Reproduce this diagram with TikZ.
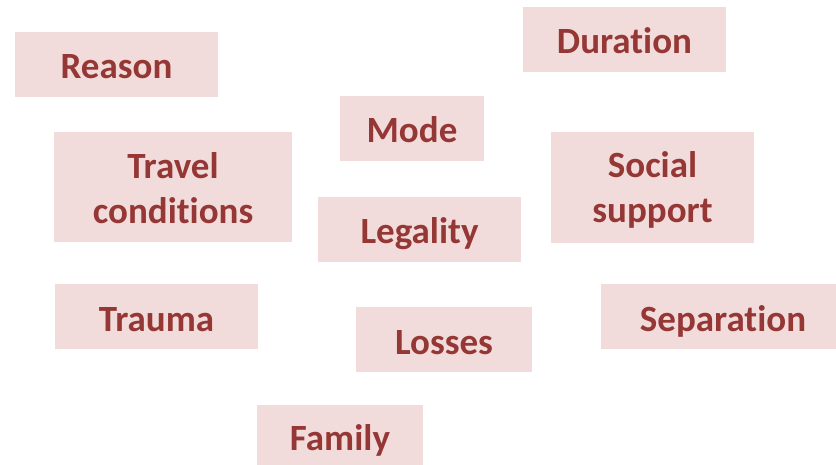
\documentclass[tikz,border=0pt]{standalone}
\usepackage{fontspec}
\setmainfont{Carlito}[Ligatures=CommonOff]
\definecolor{boxfill}{HTML}{F2DCDB}
\definecolor{boxtext}{HTML}{953735}
\begin{document}
\begin{tikzpicture}[x=1pt,y=-1pt,
  tag/.style={rectangle, fill=boxfill, text=boxtext, inner sep=0pt,
    font=\fontsize{37}{45}\selectfont\bfseries,
    text height=29pt, text depth=0pt},
  tagtwo/.style={tag, align=center, text height=#1, text depth=0pt}]
\useasboundingbox (0,0) rectangle (836,465);
\node[tag, minimum width=203pt, minimum height=65pt] (reason) at (116.5,64.5) {Reason};
\node[tag, minimum width=203pt, minimum height=65pt] (duration) at (624.5,39.5) {Duration};
\node[tag, minimum width=144pt, minimum height=65pt] (mode) at (412,128.5) {Mode};
\node[tagtwo=74pt, minimum width=238pt, minimum height=110pt] (travel) at (173,187) {Travel\\conditions};
\node[tagtwo=71pt, minimum width=203pt, minimum height=111pt] (social) at (652.5,187.5) {Social\\support};
\node[tag, minimum width=203pt, minimum height=65pt] (legality) at (419.5,229.5) {Legality};
\node[tag, minimum width=203pt, minimum height=65pt] (trauma) at (156.5,316.5) {Trauma};
\node[tag, minimum width=244pt, minimum height=65pt] (separation) at (723,316.5) {Separation};
\node[tag, minimum width=176pt, minimum height=65pt] (losses) at (444,339.5) {Losses};
\node[tag, minimum width=166pt, minimum height=62pt] (family) at (340,435.5) {Family};
\end{tikzpicture}
\end{document}
